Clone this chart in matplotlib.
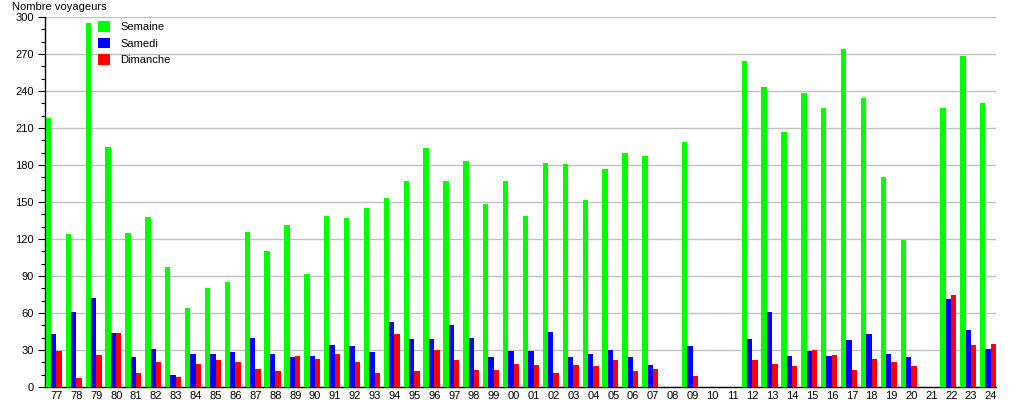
import numpy as np
import matplotlib
matplotlib.use("Agg")
import matplotlib.pyplot as plt
from matplotlib.patches import Patch
from matplotlib.ticker import MultipleLocator

plt.rcParams['font.family'] = ['Liberation Sans', 'DejaVu Sans']

years = ["77", "78", "79", "80", "81", "82", "83", "84", "85", "86", "87", "88",
         "89", "90", "91", "92", "93", "94", "95", "96", "97", "98", "99", "00",
         "01", "02", "03", "04", "05", "06", "07", "08", "09", "10", "11", "12",
         "13", "14", "15", "16", "17", "18", "19", "20", "21", "22", "23", "24"]
nan = np.nan
semaine = [218, 124, 295, 195, 125, 138, 97, 64, 80, 85, 126, 110,
           131, 92, 139, 137, 145, 153, 167, 194, 167, 183, 148, 167,
           139, 182, 181, 152, 177, 190, 187, nan, 199, nan, nan, 264,
           243, 207, 238, 226, 274, 234, 170, 119, nan, 226, 268, 230]
samedi = [43, 61, 72, 44, 24, 31, 10, 27, 27, 28, 40, 27,
          24, 25, 34, 33, 28, 53, 39, 39, 50, 40, 24, 29,
          29, 45, 24, 27, 30, 24, 18, nan, 33, nan, nan, 39,
          61, 25, 29, 25, 38, 43, 27, 24, nan, 71, 46, 31]
dimanche = [29, 7, 26, 44, 11, 20, 8, 19, 22, 20, 15, 13,
            25, 23, 27, 20, 11, 43, 13, 30, 22, 14, 14, 19,
            18, 11, 18, 17, 22, 13, 15, nan, 9, nan, nan, 22,
            19, 17, 30, 26, 14, 23, 20, 17, nan, 75, 34, 35]
series_names = ["Semaine", "Samedi", "Dimanche"]
colors = ["#00ff00", "#0000ff", "#ff0000"]

W, H = 1015, 400
fig = plt.figure(figsize=(W / 100, H / 100), dpi=100)
ax = fig.add_axes([45 / W, (H - 387) / H, (996 - 45) / W, (387 - 17) / H])

x = np.arange(len(years))
bw = 0.27
offsets = [-0.415, -0.145, 0.125]
for vals, off, c in zip([semaine, samedi, dimanche], offsets, colors):
    ax.bar(x + off, vals, width=bw, color=c, linewidth=0, zorder=3)

ax.set_xlim(-0.588, 47.25)
ax.set_ylim(0, 300)
ax.yaxis.set_major_locator(MultipleLocator(30))
ax.yaxis.set_minor_locator(MultipleLocator(10))
ax.set_xticks(x)
ax.set_xticklabels(years)
ax.tick_params(axis='x', length=0, labelsize=8, pad=3)
ax.tick_params(axis='y', which='major', length=5, width=0.8, labelsize=8, pad=3)
ax.tick_params(axis='y', which='minor', length=3, width=0.8)
ax.grid(axis='y', which='major', color='#c0c0c0', linewidth=1, zorder=0)
ax.set_axisbelow(True)
for s in ['top', 'right']:
    ax.spines[s].set_visible(False)
for s in ['left', 'bottom']:
    ax.spines[s].set_linewidth(1)

fig.text(12 / W, 1 - 7 / H, "Nombre voyageurs", fontsize=8, ha='left', va='center')

handles = [Patch(facecolor=c, edgecolor='none') for c in colors]
leg = ax.legend(handles, series_names, loc='upper left',
                bbox_to_anchor=(98 / W, 1 - 21 / H), bbox_transform=fig.transFigure,
                frameon=False, fontsize=8, handlelength=1.1, handleheight=1.1,
                handletextpad=0.9, labelspacing=0.5, borderpad=0, borderaxespad=0)

fig.savefig("out.png", dpi=100)
